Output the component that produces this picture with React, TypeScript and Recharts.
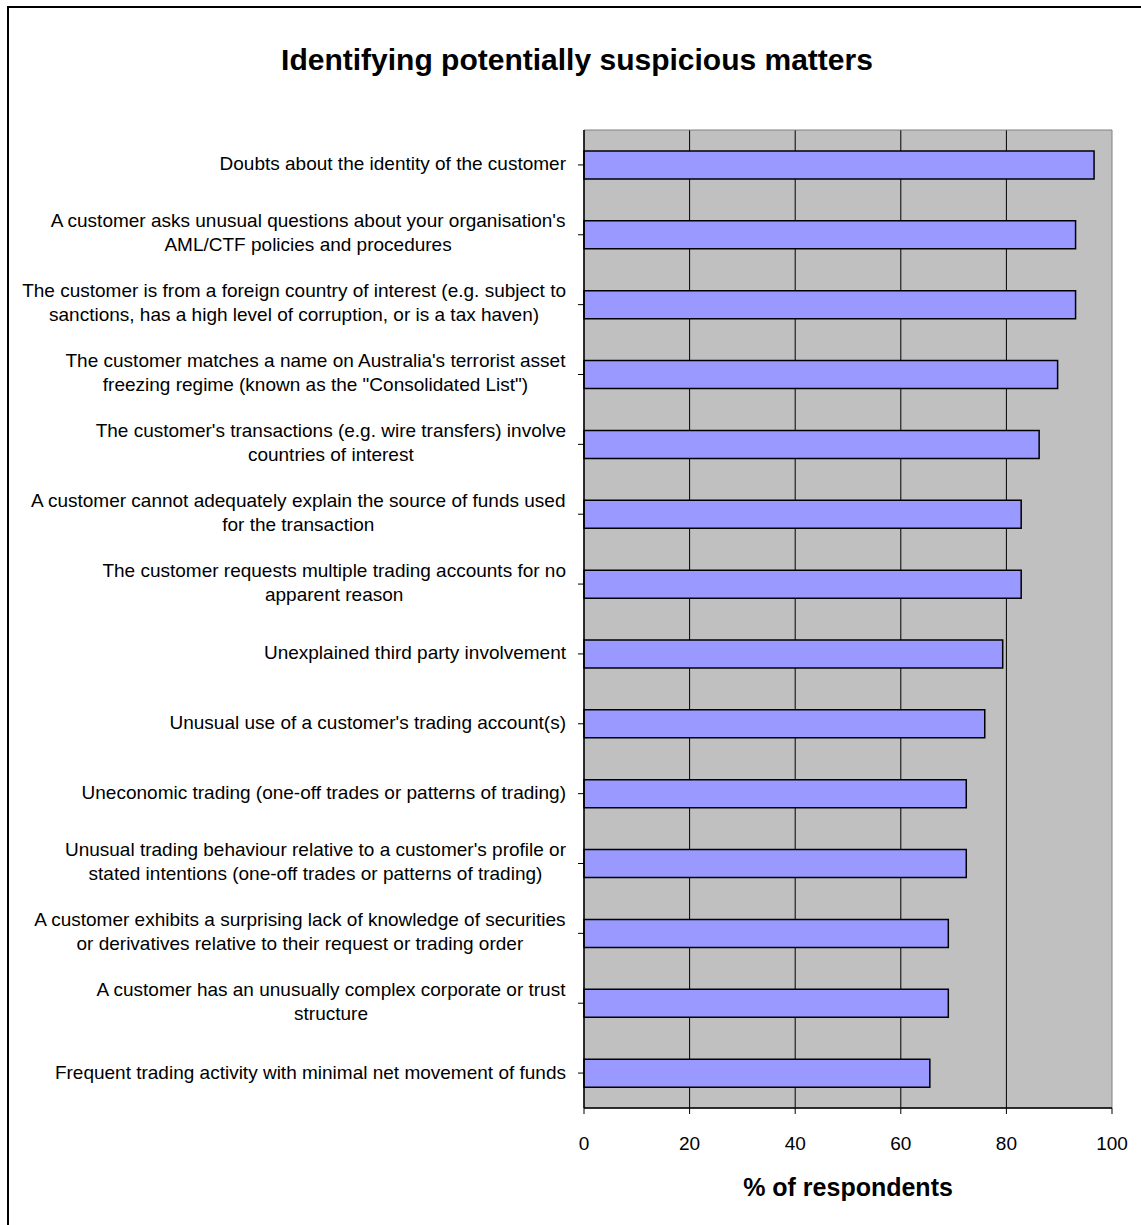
import React from "react"
import {
  BarChart,
  Bar,
  XAxis,
  YAxis,
  CartesianGrid,
  ReferenceArea,
} from "recharts"

// Survey items, top to bottom; each entry is one wrapped label line set
const categories: string[][] = [
  ["Doubts about the identity of the customer"],
  [
    "A customer asks unusual questions about your organisation's",
    "AML/CTF policies and procedures",
  ],
  [
    "The customer is from a foreign country of interest (e.g. subject to",
    "sanctions, has a high level of corruption, or is a tax haven)",
  ],
  [
    "The customer matches a name on Australia's terrorist asset",
    "freezing regime (known as the \"Consolidated List\")",
  ],
  [
    "The customer's transactions (e.g. wire transfers) involve",
    "countries of interest",
  ],
  [
    "A customer cannot adequately explain the source of funds used",
    "for the transaction",
  ],
  [
    "The customer requests multiple trading accounts for no",
    "apparent reason",
  ],
  ["Unexplained third party involvement"],
  ["Unusual use of a customer's trading account(s)"],
  ["Uneconomic trading (one-off trades or patterns of trading)"],
  [
    "Unusual trading behaviour relative to a customer's profile or",
    "stated intentions (one-off trades or patterns of trading)",
  ],
  [
    "A customer exhibits a surprising lack of knowledge of securities",
    "or derivatives relative to their request or trading order",
  ],
  [
    "A customer has an unusually complex corporate or trust",
    "structure",
  ],
  ["Frequent trading activity with minimal net movement of funds"],
]

// % of respondents
const percentages = [
  96.6, 93.1, 93.1, 89.7, 86.2, 82.8, 82.8, 79.3, 75.9, 72.4, 72.4, 69.0, 69.0,
  65.5,
]

const xTicks = [0, 20, 40, 60, 80, 100]

const data = categories.map((lines, i) => ({
  key: lines.join(" "),
  value: percentages[i],
}))
const linesByKey: Record<string, string[]> = {}
categories.forEach((lines) => {
  linesByKey[lines.join(" ")] = lines
})

const FONT = "'Liberation Sans', Arial, sans-serif"
const LABEL_SIZE = 19
const LINE_HEIGHT = 24

const measureCtx =
  typeof document !== "undefined"
    ? document.createElement("canvas").getContext("2d")
    : null

function textWidth(s: string) {
  if (!measureCtx) return s.length * 9
  measureCtx.font = `${LABEL_SIZE}px "Liberation Sans"`
  return measureCtx.measureText(s).width
}

// wrapped labels: block is right-aligned, lines are centred inside it
function CategoryTick(props: any) {
  const { x, y, payload } = props
  const lines = linesByKey[payload.value] || [String(payload.value)]
  const right = x - 10
  const top = y - 2 - ((lines.length - 1) * LINE_HEIGHT) / 2
  if (lines.length === 1) {
    return (
      <text
        x={right}
        y={y - 1}
        textAnchor="end"
        dominantBaseline="central"
        fontFamily={FONT}
        fontSize={LABEL_SIZE}
        fill="#000"
      >
        {lines[0]}
      </text>
    )
  }
  const blockWidth = Math.max(...lines.map(textWidth))
  const cx = right - blockWidth / 2
  return (
    <text
      textAnchor="middle"
      fontFamily={FONT}
      fontSize={LABEL_SIZE}
      fill="#000"
    >
      {lines.map((line, i) => (
        <tspan
          key={i}
          x={cx}
          y={top + i * LINE_HEIGHT}
          dominantBaseline="central"
        >
          {line}
        </tspan>
      ))}
    </text>
  )
}

function ValueTick(props: any) {
  const { x, y, payload } = props
  return (
    <text
      x={x}
      y={y + 27}
      textAnchor="middle"
      dominantBaseline="central"
      fontFamily={FONT}
      fontSize={LABEL_SIZE}
      fill="#000"
    >
      {payload.value}
    </text>
  )
}

export default function App() {
  return (
    <div
      style={{
        position: "absolute",
        left: 0,
        top: 0,
        width: 1141,
        height: 1225,
        background: "#fff",
        overflow: "hidden",
      }}
    >
      <div
        style={{
          position: "absolute",
          left: 7,
          top: 6,
          width: 1200,
          height: 1300,
          borderLeft: "2px solid #000",
          borderTop: "2px solid #000",
        }}
      />
      <div
        style={{
          position: "absolute",
          left: 0,
          top: 41,
          width: 1154,
          textAlign: "center",
          fontFamily: FONT,
          fontWeight: "bold",
          fontSize: 30,
          lineHeight: "38px",
          color: "#000",
        }}
      >
        Identifying potentially suspicious matters
      </div>
      <div style={{ position: "absolute", left: 0, top: 0 }}>
        <BarChart
          width={1141}
          height={1225}
          data={data}
          layout="vertical"
          margin={{ top: 130, right: 29, bottom: 37, left: 0 }}
          barCategoryGap={0}
        >
          <CartesianGrid
            horizontal={false}
            fill="#C0C0C0"
            fillOpacity={1}
            stroke="#000"
            strokeWidth={1}
            verticalCoordinatesGenerator={({ offset }: any) =>
              [20, 40, 60, 80].map(
                (v) => offset.left + (v / 100) * offset.width
              )
            }
          />
          <XAxis
            type="number"
            domain={[0, 100]}
            ticks={xTicks}
            interval={0}
            height={80}
            axisLine={{ stroke: "#000", strokeWidth: 1.5 }}
            tickLine={{ stroke: "#000" }}
            tickSize={6}
            tick={<ValueTick />}
            label={(p: any) => {
              const vb = p.viewBox
              return (
                <text
                  x={vb.x + vb.width / 2}
                  y={1187}
                  textAnchor="middle"
                  dominantBaseline="central"
                  fontFamily={FONT}
                  fontWeight="bold"
                  fontSize={25}
                  fill="#000"
                >
                  % of respondents
                </text>
              )
            }}
          />
          <YAxis
            type="category"
            dataKey="key"
            width={584}
            interval={0}
            axisLine={{ stroke: "#000", strokeWidth: 1.5 }}
            tickLine={{ stroke: "#000" }}
            tickSize={6}
            tick={<CategoryTick />}
          />
          <ReferenceArea
            x1={0}
            x2={100}
            fill="none"
            stroke="#808080"
            strokeWidth={1}
          />
          <Bar
            dataKey="value"
            fill="#9999FF"
            stroke="#000"
            strokeWidth={1.5}
            barSize={28}
            isAnimationActive={false}
          />
        </BarChart>
      </div>
    </div>
  )
}
